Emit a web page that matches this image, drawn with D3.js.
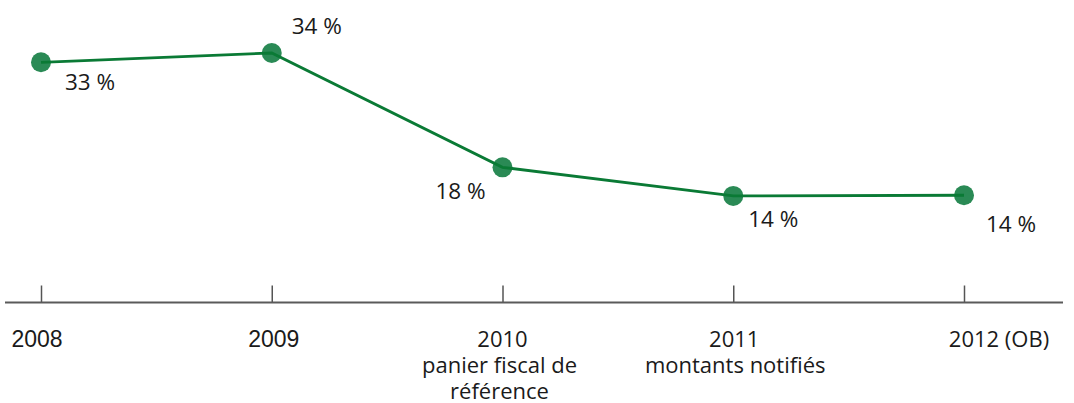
<!DOCTYPE html>
<html>
<head>
<meta charset="utf-8">
<script src="https://cdn.jsdelivr.net/npm/d3@7"></script>
<style>
  html, body { margin: 0; padding: 0; background: #ffffff; }
  svg { display: block; }
</style>
</head>
<body>
<script>
// ---- data ----
const categories = ["2008", "2009", "2010", "2011", "2012 (OB)"];
const categorySublabels = [[], [], ["panier fiscal de", "référence"], ["montants notifiés"], []];
const values = [32.7, 34.0, 18.0, 14.0, 14.1];
const valueLabels = ["33 %", "34 %", "18 %", "14 %", "14 %"];

// ---- layout ----
const W = 1074, H = 403;
const labelOffsets = [[49, 28], [45, -19], [-42, 32], [40, 31], [47, 37]];
const catShift = [-4, 2, 0, 1, 35];
const categoryFonts = ["Liberation Sans, Arial, sans-serif", "Liberation Sans, Arial, sans-serif",
  "Open Sans, sans-serif", "Open Sans, sans-serif", "Open Sans, sans-serif"];

const svg = d3.select("body").append("svg").attr("width", W).attr("height", H);

const x = d3.scalePoint().domain(categories).range([41, 964]);
const y = d3.scaleLinear().domain([0, 34]).range([296, 53]);
const axisY = 302.5;

// axis
const xAxis = d3.axisBottom(x).tickSize(-17).tickFormat("").tickSizeOuter(0);
const gAxis = svg.append("g").attr("transform", `translate(0,${axisY})`).call(xAxis);
gAxis.select(".domain").remove();
gAxis.selectAll(".tick line").attr("stroke", "#555").attr("stroke-width", 1.5);
svg.append("line").attr("x1", 5).attr("x2", 1063).attr("y1", axisY).attr("y2", axisY)
  .attr("stroke", "#5a5a5a").attr("stroke-width", 2);

// category labels
const catG = svg.append("g");
categories.forEach((c, i) => {
  const cx = x(c) + catShift[i];
  const t = catG.append("text")
    .attr("x", cx)
    .attr("y", 347)
    .attr("text-anchor", "middle")
    .attr("font-family", categoryFonts[i])
    .attr("font-size", i < 2 ? 23 : 22)
    .attr("fill", "#1a1a1a");
  t.append("tspan").attr("x", cx).text(c);
  categorySublabels[i].forEach((s) => {
    t.append("tspan").attr("x", x(c) + (i === 3 ? 2 : -3)).attr("dy", 26).text(s);
  });
});

// markers
svg.append("g").selectAll("circle").data(values).join("circle")
  .attr("cx", (d, i) => x(categories[i]))
  .attr("cy", d => y(d))
  .attr("r", 10)
  .attr("fill", "#2a8a55");

// line
const line = d3.line().x((d, i) => x(categories[i])).y(d => y(d));
svg.append("path").datum(values)
  .attr("d", line)
  .attr("fill", "none")
  .attr("stroke", "#0a7a35")
  .attr("stroke-width", 2.8);

// value labels
svg.append("g").selectAll("text").data(values).join("text")
  .attr("x", (d, i) => x(categories[i]) + labelOffsets[i][0])
  .attr("y", (d, i) => y(d) + labelOffsets[i][1])
  .attr("text-anchor", "middle")
  .attr("font-family", "Open Sans, sans-serif")
  .attr("font-size", 22.5)
  .attr("fill", "#1a1a1a")
  .text((d, i) => valueLabels[i]);
</script>
</body>
</html>
